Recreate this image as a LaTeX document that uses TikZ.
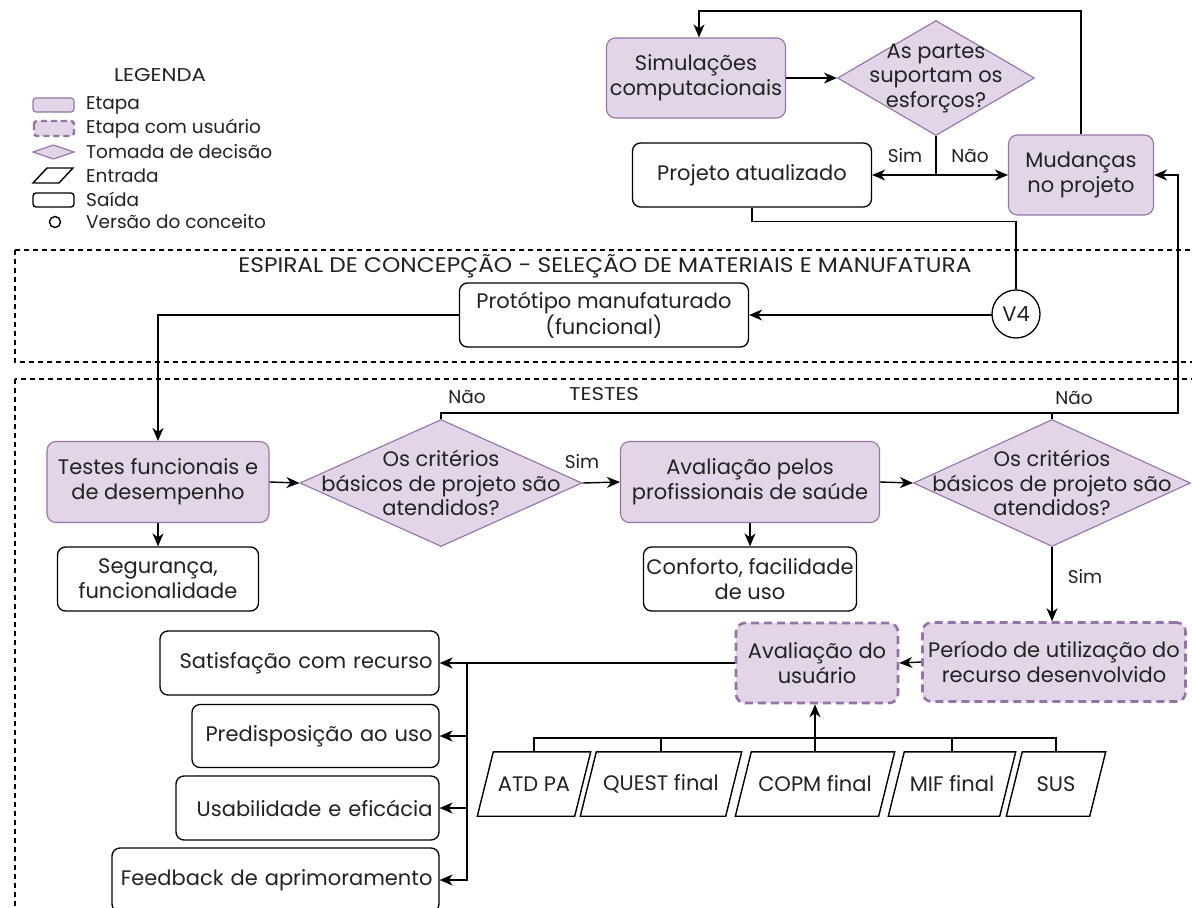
\documentclass[tikz,border=0pt]{standalone}
\usepackage{fontspec}
\usepackage{graphicx}
\setmainfont{Poppins}
\usetikzlibrary{arrows.meta,shapes.geometric}
\definecolor{stepfill}{HTML}{E1D5E7}
\definecolor{stepline}{HTML}{9673A6}
\definecolor{ink}{HTML}{222222}

% wide capitals for the section titles
\newcommand{\widecaps}[2][1.15]{\scalebox{#1}[1]{#2}}

\tikzset{
  base/.style={align=center, text=ink, inner sep=0pt, font=\fontsize{21}{25}\selectfont},
  stage/.style={base, rectangle, rounded corners=9pt, draw=stepline, fill=stepfill, line width=1.1pt},
  userstage/.style={base, rectangle, rounded corners=9pt, draw=stepline, fill=stepfill, line width=2.6pt, dash pattern=on 8pt off 5pt},
  outbox/.style={base, rectangle, rounded corners=8pt, draw=black, line width=1.3pt, fill=white},
  rightout/.style={outbox, align=right},
  decision/.style={diamond, draw=stepline, fill=stepfill, line width=1.1pt, inner sep=0pt},
  dtext/.style={base, font=\fontsize{21}{24.5}\selectfont},
  inbox/.style={base, rectangle, minimum height=64pt},
  version/.style={base, circle, draw=black, line width=1.3pt, minimum size=48pt},
  flow/.style={draw=black, line width=1.4pt, -{Stealth[length=13pt,width=11pt,inset=4pt]}},
  link/.style={draw=black, line width=1.4pt},
  frame/.style={draw=black, line width=1.3pt, dash pattern=on 5pt off 4pt},
  lbl/.style={text=ink, font=\fontsize{18.5}{21}\selectfont, inner sep=0pt},
  legtext/.style={text=ink, font=\fontsize{18.5}{21}\selectfont, anchor=west, inner sep=0pt},
}

% slanted outline of an input node (parallelogram around the node box)
\newcommand{\slantframe}[1]{%
  \draw[link] ([xshift=-8pt]#1.south west) -- ([xshift=8pt]#1.north west)
    -- ([xshift=8pt]#1.north east) -- ([xshift=-8pt]#1.south east) -- cycle;}

\begin{document}
\begin{tikzpicture}[x=1pt, y=-1pt]
\useasboundingbox (0,0) rectangle (1192,908);
\clip (0,0) rectangle (1192,908);
\fill[white] (0,0) rectangle (1192,908);

% ---------- legend ----------
\node[lbl] (legtitle) at (160,75) {\widecaps{LEGENDA}};
\draw[draw=stepline, fill=stepfill, line width=1.1pt, rounded corners=3pt] (33,98) rectangle (74,112);
\node[legtext] (leg1) at (86,105) {Etapa};
\draw[draw=stepline, fill=stepfill, line width=2.4pt, dash pattern=on 6pt off 4pt, rounded corners=3pt] (34,121) rectangle (74,136);
\node[legtext] (leg2) at (86,129) {Etapa com usuário};
\draw[draw=stepline, fill=stepfill, line width=1.1pt] (33,152) -- (53.5,145) -- (74,152) -- (53.5,159) -- cycle;
\node[legtext] (leg3) at (86,152) {Tomada de decisão};
\draw[link] (33,183) -- (47,168) -- (73,168) -- (59,183) -- cycle;
\node[legtext] (leg4) at (86,176) {Entrada};
\draw[link, rounded corners=3pt] (33,193) rectangle (74,207);
\node[legtext] (leg5) at (86,199) {Saída};
\draw[link] (55,222) circle (5.5);
\node[legtext] (leg6) at (86,222) {Versão do conceito};

% ---------- dashed frames ----------
\draw[frame] (15,250) rectangle (1215,362);
\draw[frame] (15,379) rectangle (1215,935);
\node[base] (espiral) at (605,266) {\widecaps[1.11]{ESPIRAL DE CONCEPÇÃO - SELEÇÃO DE MATERIAIS E MANUFATURA}};
\node[lbl] (testes) at (604,394) {\widecaps{TESTES}};

% ---------- upper loop ----------
\node[stage, minimum width=179pt, minimum height=80pt] (sim) at (696,78) {Simulações\\computacionais};
\node[decision, minimum width=197pt, minimum height=115pt] (d0) at (936,78) {};
\node[dtext] at (d0) {As partes\\suportam os\\esforços?};
\node[outbox, minimum width=239pt, minimum height=64pt] (proj) at (752,175) {Projeto atualizado};
\node[stage, minimum width=145pt, minimum height=80pt] (mud) at (1081,175) {Mudanças\\no projeto};

\draw[flow] (sim.east) -- (d0.west);
\draw[flow] (d0.south) |- (proj.east);
\draw[flow] (d0.south) |- (mud.west);
\node[lbl] (l0s) at (905,156) {Sim};
\node[lbl] (l0n) at (970,156) {Não};
\coordinate (looptop) at (699,11);
\draw[flow] (mud.north) |- (looptop) -- (looptop |- sim.north);

% ---------- manufacturing ----------
\node[outbox, minimum width=289pt, minimum height=64pt] (proto) at (604,315) {Protótipo manufaturado\\(funcional)};
\node[version] (v4) at (1016,314) {V4};
\draw[link] (proj.south) -- ++(0,14) -| (v4.north);
\draw[flow] (v4.west) -- (proto.west -| v4.west) -- (proto.east);

% ---------- tests ----------
\node[stage, minimum width=222pt, minimum height=81pt] (func) at (158,482) {Testes funcionais e\\de desempenho};
\node[decision, minimum width=282pt, minimum height=127pt] (d1) at (441,483) {};
\node[dtext] at (d1) {Os critérios\\básicos de projeto são\\atendidos?};
\node[stage, minimum width=259pt, minimum height=81pt] (prof) at (750,482) {Avaliação pelos\\profissionais de saúde};
\node[decision, minimum width=277pt, minimum height=127pt] (d2) at (1052,483) {};
\node[dtext] at (d2) {Os critérios\\básicos de projeto são\\atendidos?};
\node[outbox, minimum width=201pt, minimum height=64pt] (seg) at (158,579) {Segurança,\\funcionalidade};
\node[outbox, minimum width=213pt, minimum height=64pt] (conf) at (750,579) {Conforto, facilidade\\de uso};

\draw[flow] (proto.west) -| (func.north);
\draw[flow] (func.east) -- (d1.west);
\draw[flow] (func.south) -- (seg.north);
\draw[flow] (d1.east) -- (prof.west);
\node[lbl] (l1s) at (582,462) {Sim};
\draw[flow] (prof.east) -- (d2.west);
\draw[flow] (prof.south) -- (conf.north);

\coordinate (backr) at (1178,413);
\draw[flow] (d1.north) |- (backr) |- (mud.east);
\draw[link] (d2.north) -- (d2.north |- backr);
\node[lbl] (l1n) at (467,397) {Não};
\node[lbl] (l2n) at (1074,398) {Não};

% ---------- user evaluation ----------
\node[userstage, minimum width=263pt, minimum height=79pt] (uso) at (1054,662) {Período de utilização do\\recurso desenvolvido};
\node[userstage, minimum width=162pt, minimum height=80pt] (aval) at (817,663) {Avaliação do\\usuário};
\draw[flow] (d2.south) -- (d2.south |- uso.north);
\node[lbl] (l2s) at (1085,577) {Sim};
\draw[flow] (uso.west) -- (aval.east);

% outputs of the user evaluation
\node[rightout, minimum width=279pt, minimum height=64pt, text width=266pt] (sat) at (299.5,663) {Satisfação com recurso};
\node[rightout, minimum width=247pt, minimum height=63pt, text width=234pt] (pred) at (315.5,736) {Predisposição ao uso};
\node[rightout, minimum width=263pt, minimum height=64pt, text width=250pt] (usab) at (307.5,808) {Usabilidade e eficácia};
\node[rightout, minimum width=327pt, minimum height=64pt, text width=314pt] (feed) at (275.5,880) {Feedback de aprimoramento};
\coordinate (obus) at (467,663);
\draw[flow] (aval.west) -- (sat.east);
\draw[flow] (obus) |- (feed.east);
\draw[flow] (obus |- pred.east) -- (pred.east);
\draw[flow] (obus |- usab.east) -- (usab.east);

% instruments feeding the user evaluation
\node[inbox, minimum width=97pt] (atd) at (534,784) {ATD PA};
\node[inbox, minimum width=145pt] (quest) at (661,784) {QUEST final};
\node[inbox, minimum width=143pt] (copm) at (815,784) {COPM final};
\node[inbox, minimum width=111pt] (mif) at (952,784) {MIF final};
\node[inbox, minimum width=83pt] (sus) at (1056,784) {SUS};
\slantframe{atd}
\slantframe{quest}
\slantframe{copm}
\slantframe{mif}
\slantframe{sus}
\coordinate (ibus) at (0,738);
\draw[link] (atd.north) -- (atd.north |- ibus) -- (sus.north |- ibus) -- (sus.north);
\draw[link] (quest.north) -- (quest.north |- ibus);
\draw[link] (mif.north) -- (mif.north |- ibus);
\draw[flow] (copm.north) -- (copm.north |- aval.south);
\end{tikzpicture}
\end{document}
